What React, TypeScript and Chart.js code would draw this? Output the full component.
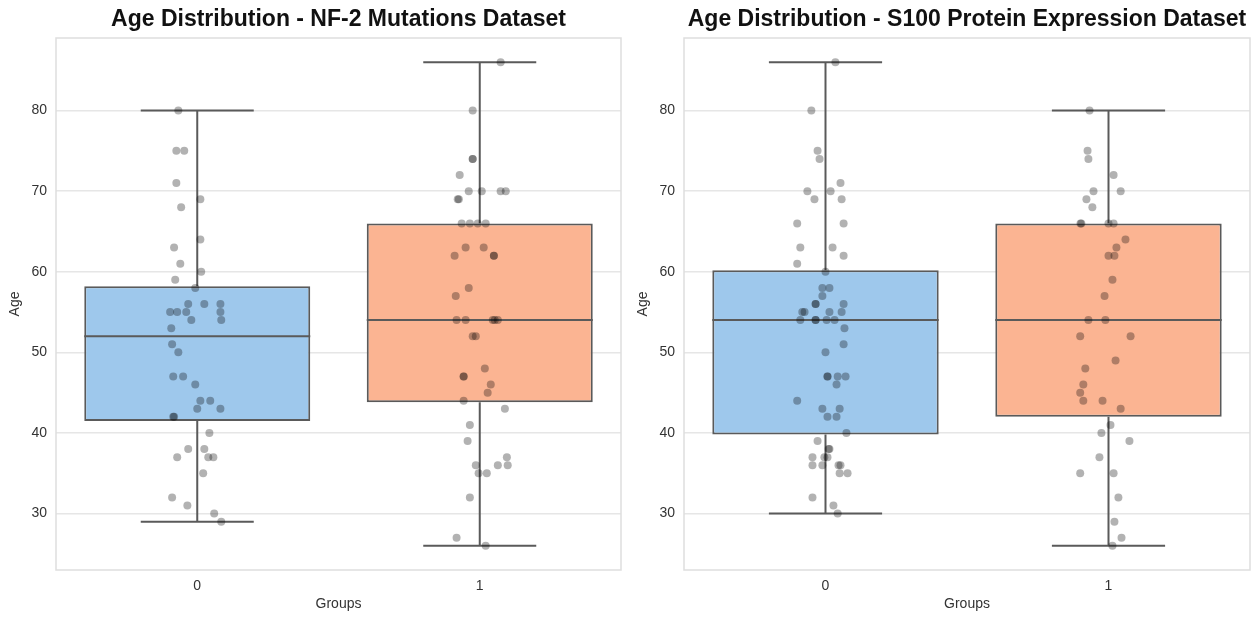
import React, { useEffect, useRef } from "react";
import { Chart, registerables } from "chart.js";

Chart.register(...registerables);

// ---------- data ----------
const GROUPS = ["0", "1"];
const Y_TICKS = [30, 40, 50, 60, 70, 80];
const Y_MIN = 23;
const Y_MAX = 89;
const BOX_COLORS = ["#9ec8ec", "#fbb492"];

const NF2_TITLE = "Age Distribution - NF-2 Mutations Dataset";
const NF2_LOW = [29, 26];
const NF2_Q1 = [41.5, 43.8];
const NF2_MEDIAN = [52, 54];
const NF2_Q3 = [58.2, 66];
const NF2_HIGH = [80, 86];
const NF2_G0_AGES = [80, 75, 75, 71, 69, 68, 64, 63, 61, 60, 59, 58, 56, 56, 56, 55, 55, 55, 55, 54, 54, 53, 51, 50, 47, 47, 46, 44, 44, 43, 43, 42, 42, 40, 38, 38, 37, 37, 37, 35, 32, 31, 30, 29];
const NF2_G0_JITTER = [-0.067, -0.074, -0.046, -0.074, 0.011, -0.057, 0.011, -0.082, -0.06, 0.014, -0.078, -0.007, -0.032, 0.025, 0.082, -0.096, -0.071, -0.039, 0.082, -0.021, 0.085, -0.092, -0.089, -0.067, -0.085, -0.05, -0.007, 0.011, 0.046, 0.0, 0.082, -0.085, -0.082, 0.043, -0.032, 0.025, -0.071, 0.039, 0.057, 0.021, -0.089, -0.035, 0.06, 0.085];
const NF2_G1_AGES = [86, 80, 74, 74, 72, 70, 70, 70, 70, 69, 69, 66, 66, 66, 66, 63, 63, 62, 62, 62, 58, 57, 54, 54, 54, 54, 54, 52, 52, 48, 47, 47, 46, 45, 44, 43, 41, 39, 37, 36, 36, 36, 35, 35, 32, 27, 26];
const NF2_G1_JITTER = [0.074, -0.025, -0.025, -0.025, -0.071, -0.039, 0.007, 0.074, 0.092, -0.078, -0.074, -0.064, -0.035, -0.007, 0.021, -0.05, 0.014, -0.089, 0.05, 0.05, -0.039, -0.085, -0.082, -0.05, 0.046, 0.053, 0.064, -0.025, -0.014, 0.018, -0.057, -0.057, 0.039, 0.028, -0.057, 0.089, -0.035, -0.043, 0.096, -0.014, 0.064, 0.099, -0.004, 0.025, -0.035, -0.082, 0.021];

const S100_TITLE = "Age Distribution - S100 Protein Expression Dataset";
const S100_LOW = [30, 26];
const S100_Q1 = [39.8, 42];
const S100_MEDIAN = [54, 54];
const S100_Q3 = [60.2, 66];
const S100_HIGH = [86, 80];
const S100_G0_AGES = [86, 80, 75, 74, 71, 70, 70, 69, 69, 66, 66, 63, 63, 62, 61, 60, 58, 58, 57, 56, 56, 56, 55, 55, 55, 55, 54, 54, 54, 54, 54, 53, 51, 50, 47, 47, 47, 47, 46, 44, 43, 43, 42, 42, 40, 39, 38, 38, 37, 37, 37, 36, 36, 36, 36, 35, 35, 32, 31, 30];
const S100_G0_JITTER = [0.035, -0.05, -0.028, -0.021, 0.053, -0.064, 0.018, -0.039, 0.057, -0.1, 0.064, -0.089, 0.025, 0.064, -0.1, 0.0, -0.011, 0.014, -0.011, -0.035, -0.035, 0.064, -0.082, -0.074, 0.014, 0.057, -0.089, -0.035, -0.035, 0.004, 0.032, 0.067, 0.064, 0.0, 0.007, 0.007, 0.043, 0.071, 0.039, -0.1, -0.011, 0.05, 0.007, 0.039, 0.074, -0.028, 0.011, 0.014, -0.046, -0.004, 0.007, -0.046, -0.011, 0.046, 0.053, 0.05, 0.078, -0.046, 0.028, 0.043];
const S100_G1_AGES = [80, 75, 74, 72, 70, 70, 69, 68, 66, 66, 66, 66, 64, 63, 62, 62, 59, 57, 54, 54, 52, 52, 49, 48, 46, 45, 44, 44, 43, 41, 40, 39, 37, 35, 35, 32, 29, 27, 26];
const S100_G1_JITTER = [-0.067, -0.074, -0.071, 0.018, -0.053, 0.043, -0.078, -0.057, -0.099, -0.096, 0.0, 0.018, 0.06, 0.028, 0.0, 0.021, 0.014, -0.014, -0.071, -0.011, -0.1, 0.078, 0.025, -0.082, -0.089, -0.1, -0.089, -0.021, 0.043, 0.007, -0.025, 0.074, -0.032, -0.1, 0.018, 0.035, 0.021, 0.046, 0.014];

// ---------- styles ----------
const BOX_WIDTH = 0.8;
const CAP_WIDTH = 0.4;
const EDGE = "#5a5a5a";
const FONT = "'Liberation Sans', Arial, sans-serif";

type Stats = { low: number[]; q1: number[]; median: number[]; q3: number[]; high: number[] };

function seg(a: { x: number; y: number }, b: { x: number; y: number }) {
  return {
    type: "line" as const,
    data: [a, b],
    borderColor: EDGE,
    borderWidth: 2,
    pointRadius: 0,
    fill: false,
    order: 1,
  };
}

function buildDatasets(st: Stats, ages: number[][], jitter: number[][]) {
  const ds: any[] = [];
  ds.push({
    type: "scatter",
    data: ages.flatMap((arr, g) => arr.map((a, k) => ({ x: g + jitter[g][k], y: a }))),
    backgroundColor: "rgba(0,0,0,0.3)",
    borderWidth: 0,
    pointRadius: 4,
    order: 0,
  });
  GROUPS.forEach((_, i) => {
    ds.push(seg({ x: i - BOX_WIDTH / 2, y: st.median[i] }, { x: i + BOX_WIDTH / 2, y: st.median[i] }));
    ds.push(seg({ x: i, y: st.q3[i] }, { x: i, y: st.high[i] }));
    ds.push(seg({ x: i, y: st.q1[i] }, { x: i, y: st.low[i] }));
    ds.push(seg({ x: i - CAP_WIDTH / 2, y: st.high[i] }, { x: i + CAP_WIDTH / 2, y: st.high[i] }));
    ds.push(seg({ x: i - CAP_WIDTH / 2, y: st.low[i] }, { x: i + CAP_WIDTH / 2, y: st.low[i] }));
  });
  ds.push({
    type: "bar",
    data: GROUPS.map((_, i) => ({ x: i, y: [st.q1[i], st.q3[i]] })),
    backgroundColor: BOX_COLORS,
    borderColor: EDGE,
    borderWidth: 2,
    borderSkipped: false,
    barPercentage: BOX_WIDTH,
    categoryPercentage: 1,
    order: 2,
  });
  return ds;
}

const framePlugin = {
  id: "frame",
  beforeDatasetsDraw(chart: any) {
    const { ctx, chartArea } = chart;
    ctx.save();
    ctx.strokeStyle = "#dedede";
    ctx.lineWidth = 1.5;
    ctx.strokeRect(chartArea.left, chartArea.top, chartArea.right - chartArea.left, chartArea.bottom - chartArea.top);
    ctx.restore();
  },
};

function BoxChart({ title, st, ages, jitter, width, left }: any) {
  const ref = useRef<HTMLCanvasElement>(null);
  useEffect(() => {
    const chart = new Chart(ref.current!, {
      type: "scatter",
      data: { datasets: buildDatasets(st, ages, jitter) },
      plugins: [framePlugin],
      options: {
        responsive: false,
        animation: false,
        devicePixelRatio: 1,
        layout: { padding: { left: 0, right: 9, top: 0, bottom: 0 } },
        plugins: {
          legend: { display: false },
          tooltip: { enabled: false },
          title: {
            display: true,
            text: title,
            fullSize: false,
            color: "#111",
            font: { family: FONT, size: 23, weight: "bold", lineHeight: 1.2 },
            padding: { top: 6, bottom: 4.4 },
          },
        },
        scales: {
          x: {
            type: "linear",
            min: -0.5,
            max: 1.5,
            offset: false,
            grid: { display: false, drawTicks: false },
            border: { display: false },
            afterBuildTicks: (s: any) => {
              s.ticks = GROUPS.map((_, i) => ({ value: i }));
            },
            afterFit: (s: any) => {
              s.height = 47;
            },
            ticks: {
              callback: (v: any) => GROUPS[Math.round(v)] ?? "",
              color: "#333",
              font: { family: FONT, size: 14 },
              padding: 8,
              maxRotation: 0,
            },
            title: {
              display: true,
              text: "Groups",
              color: "#333",
              font: { family: FONT, size: 14 },
              padding: { top: 4, bottom: 4 },
            },
          },
          y: {
            type: "linear",
            min: Y_MIN,
            max: Y_MAX,
            afterBuildTicks: (s: any) => {
              s.ticks = Y_TICKS.map((v) => ({ value: v }));
            },
            afterFit: (s: any) => {
              s.width = 56;
            },
            grid: { color: "#e6e6e6", lineWidth: 1.5, drawTicks: false },
            border: { display: false },
            ticks: {
              color: "#333",
              font: { family: FONT, size: 14 },
              padding: 9,
            },
            title: {
              display: true,
              text: "Age",
              color: "#333",
              font: { family: FONT, size: 14 },
              padding: { top: 7, bottom: 4 },
            },
          },
        },
      } as any,
    });
    return () => chart.destroy();
  }, []);
  return (
    <canvas
      ref={ref}
      width={width}
      height={617}
      style={{ position: "absolute", left, top: 0, width, height: 617 }}
    />
  );
}

export default function App() {
  return (
    <div style={{ position: "absolute", left: 0, top: 0, width: 1259, height: 617, background: "#fff" }}>
      <BoxChart
        title={NF2_TITLE}
        st={{ low: NF2_LOW, q1: NF2_Q1, median: NF2_MEDIAN, q3: NF2_Q3, high: NF2_HIGH }}
        ages={[NF2_G0_AGES, NF2_G1_AGES]}
        jitter={[NF2_G0_JITTER, NF2_G1_JITTER]}
        width={630}
        left={0}
      />
      <BoxChart
        title={S100_TITLE}
        st={{ low: S100_LOW, q1: S100_Q1, median: S100_MEDIAN, q3: S100_Q3, high: S100_HIGH }}
        ages={[S100_G0_AGES, S100_G1_AGES]}
        jitter={[S100_G0_JITTER, S100_G1_JITTER]}
        width={631}
        left={628}
      />
    </div>
  );
}
